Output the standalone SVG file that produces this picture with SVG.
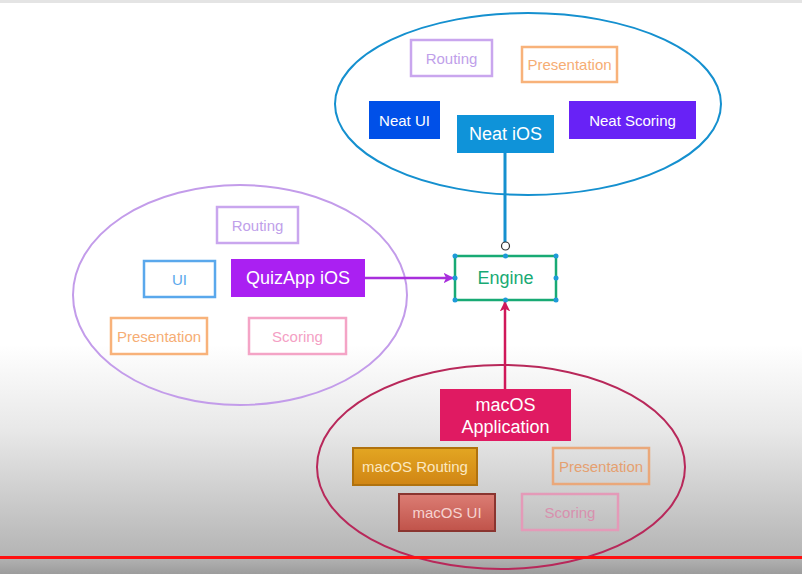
<svg xmlns="http://www.w3.org/2000/svg" width="802" height="574" viewBox="0 0 802 574">
<defs>
<linearGradient id="bg" x1="0" y1="0" x2="0" y2="1">
<stop offset="0" stop-color="#ffffff"/>
<stop offset="0.6" stop-color="#ffffff"/>
<stop offset="0.75" stop-color="#e8e8e8"/>
<stop offset="0.97" stop-color="#b4b4b4"/>
<stop offset="1" stop-color="#9c9c9c"/>
</linearGradient>
<linearGradient id="gold" x1="0" y1="0" x2="0" y2="1">
<stop offset="0" stop-color="#e3a622"/>
<stop offset="1" stop-color="#d08514"/>
</linearGradient>
<linearGradient id="redg" x1="0" y1="0" x2="0" y2="1">
<stop offset="0" stop-color="#dc7d74"/>
<stop offset="1" stop-color="#c0534a"/>
</linearGradient>
<marker id="ahP" viewBox="0 0 10 10" refX="9" refY="5" markerWidth="4.2" markerHeight="4.2" orient="auto"><path d="M0,0 L10,5 L0,10 L2.5,5 z" fill="#a82fdc"/></marker>
<marker id="ahR" viewBox="0 0 10 10" refX="9" refY="5" markerWidth="4.2" markerHeight="4.2" orient="auto"><path d="M0,0 L10,5 L0,10 L2.5,5 z" fill="#d0185a"/></marker>
<style>
text{font-family:"Liberation Sans",Arial,sans-serif;text-anchor:middle;dominant-baseline:central}
.t15{font-size:15px}
.t18{font-size:18px}
.hollow{fill:#ffffff;stroke-width:2.5}
.handle{fill:#1e9ad8}
</style>
</defs>
<rect x="0" y="0" width="802" height="574" fill="url(#bg)"/>
<rect x="0" y="0" width="802" height="3" fill="#e4e4e4"/>

<g id="cluster-neat">
<ellipse cx="528" cy="104" rx="193" ry="91" fill="none" stroke="#1590cf" stroke-width="2"/>
</g>
<g id="cluster-quizapp">
<ellipse cx="240" cy="295" rx="167" ry="110" fill="none" stroke="#c39cea" stroke-width="2"/>
</g>
<g id="cluster-macos">
<ellipse cx="501" cy="467" rx="184" ry="102" fill="none" stroke="#b8285a" stroke-width="2"/>
</g>

<g id="connectors">
<line x1="505" y1="153" x2="505" y2="248" stroke="#1590cf" stroke-width="3"/>
<line x1="365" y1="278" x2="453" y2="278" stroke="#a82fdc" stroke-width="2.5" marker-end="url(#ahP)"/>
<line x1="505" y1="389" x2="505" y2="302" stroke="#d0185a" stroke-width="2.5" marker-end="url(#ahR)"/>
</g>

<g id="neat-routing"><rect x="411" y="40" width="81" height="36" class="hollow" stroke="#c9a6ee"/><text x="451.5" y="58" class="t15" fill="#c0a0ea">Routing</text></g>
<g id="neat-presentation"><rect x="522" y="47" width="95" height="35" class="hollow" stroke="#f8b27a"/><text x="569.5" y="64.5" class="t15" fill="#f6ad74">Presentation</text></g>
<g id="neat-ui"><rect x="369" y="101" width="71" height="38" fill="#0050e8"/><text x="404.5" y="120" class="t15" fill="#ffffff">Neat UI</text></g>
<g id="neat-ios"><rect x="457" y="115" width="97" height="38" fill="#0f93d9"/><text x="505.5" y="134" class="t18" fill="#ffffff">Neat iOS</text></g>
<g id="neat-scoring"><rect x="569" y="101" width="127" height="38" fill="#6822f6"/><text x="632.5" y="120" class="t15" fill="#ffffff">Neat Scoring</text></g>

<g id="quiz-routing"><rect x="217" y="207" width="81" height="36" class="hollow" stroke="#c9a6ee"/><text x="257.5" y="225.5" class="t15" fill="#c0a0ea">Routing</text></g>
<g id="quiz-ui"><rect x="144" y="261" width="71" height="36" class="hollow" stroke="#5aa8ec"/><text x="179.5" y="279" class="t15" fill="#5aa8ec">UI</text></g>
<g id="quizapp-ios"><rect x="231" y="259" width="134" height="38" fill="#aa20f2"/><text x="298" y="278" class="t18" fill="#ffffff">QuizApp iOS</text></g>
<g id="quiz-presentation"><rect x="111" y="318" width="96" height="36" class="hollow" stroke="#f8b27a"/><text x="159" y="336" class="t15" fill="#f6ad74">Presentation</text></g>
<g id="quiz-scoring"><rect x="249" y="318" width="97" height="36" class="hollow" stroke="#f4a4c6"/><text x="297.5" y="336" class="t15" fill="#f4a0c4">Scoring</text></g>

<g id="engine">
<rect x="455" y="256" width="101" height="44" fill="#ffffff" stroke="#18aa74" stroke-width="2.5"/>
<text x="505.5" y="278" class="t18" fill="#18aa74">Engine</text>
<circle cx="455" cy="256" r="2.5" class="handle"/><circle cx="505.5" cy="256" r="2.5" class="handle"/><circle cx="556" cy="256" r="2.5" class="handle"/>
<circle cx="455" cy="278" r="2.5" class="handle"/><circle cx="556" cy="278" r="2.5" class="handle"/>
<circle cx="455" cy="300" r="2.5" class="handle"/><circle cx="505.5" cy="300" r="2.5" class="handle"/><circle cx="556" cy="300" r="2.5" class="handle"/>
<circle cx="505.5" cy="246" r="4" fill="#ffffff" stroke="#333333" stroke-width="1.2"/>
</g>

<g id="macos-app"><rect x="440" y="389" width="131" height="52" fill="#e01a62"/><text x="505.5" y="404.5" class="t18" fill="#ffffff">macOS</text><text x="505.5" y="426.5" class="t18" fill="#ffffff">Application</text></g>
<g id="macos-routing"><rect x="353" y="448" width="124" height="37" fill="url(#gold)" stroke="#b0720e" stroke-width="2"/><text x="415" y="466.5" class="t15" fill="#fbe8c0">macOS Routing</text></g>
<g id="macos-presentation"><rect x="553" y="448" width="96" height="36" fill="none" stroke="#eaa87a" stroke-width="2.5"/><text x="601" y="466" class="t15" fill="#e5a070">Presentation</text></g>
<g id="macos-ui"><rect x="399" y="494" width="96" height="37" fill="url(#redg)" stroke="#8a3530" stroke-width="2"/><text x="447" y="512.5" class="t15" fill="#f6d4d0">macOS UI</text></g>
<g id="macos-scoring"><rect x="522" y="494" width="96" height="36" fill="none" stroke="#e49ab8" stroke-width="2.5"/><text x="570" y="512" class="t15" fill="#d890ae">Scoring</text></g>

<rect x="0" y="556" width="802" height="3" fill="#ff1010"/>
</svg>
